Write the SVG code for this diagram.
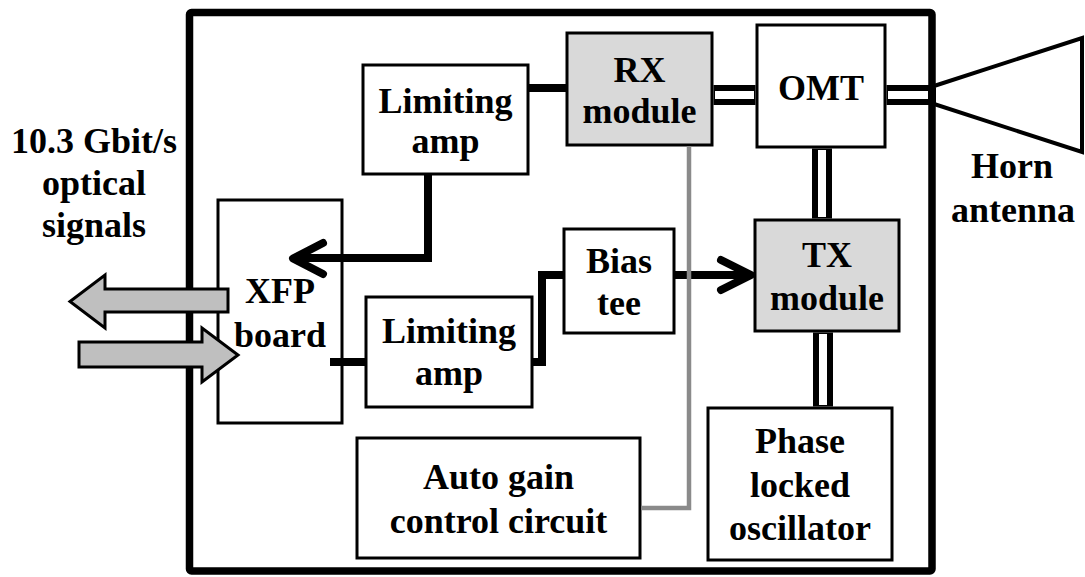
<svg xmlns="http://www.w3.org/2000/svg" width="1085" height="577" viewBox="0 0 1085 577">
<style>
.box{fill:#fff;stroke:#000;stroke-width:3}
.mod{fill:#d9d9d9;stroke:#000;stroke-width:3}
.t{font-family:"Liberation Serif","Times New Roman","DejaVu Serif",serif;font-weight:bold;font-size:36px;text-anchor:middle;fill:#000}
.wire{fill:none;stroke:#000;stroke-width:8}
.chev{fill:none;stroke:#000;stroke-width:8;stroke-linecap:round;stroke-linejoin:round}
.wgo{fill:none;stroke:#000;stroke-width:20}
.wgi{fill:none;stroke:#fff;stroke-width:8}
.opt{fill:#bfbfbf;stroke:#000;stroke-width:3}
</style>
<rect width="1085" height="577" fill="#fff"/>
<g id="frame"><rect x="189.5" y="12.5" width="742.5" height="558.5" rx="2" fill="none" stroke="#000" stroke-width="7.5"/></g>
<g id="limamp1"><rect class="box" x="363" y="65" width="165" height="109"/><text class="t" x="445.5" y="113" font-family="Liberation Serif, serif">Limiting</text><text class="t" x="445.5" y="153">amp</text></g>
<g id="rx"><rect class="mod" x="567" y="33" width="145" height="112"/><text class="t" x="639.5" y="82">RX</text><text class="t" x="639.5" y="123">module</text></g>
<g id="omt"><rect class="box" x="757" y="25" width="128" height="122"/><text class="t" x="821" y="100">OMT</text></g>
<g id="horn"><polygon points="934,86 1082,38 1082,152 934,104" fill="#fff" stroke="#000" stroke-width="4" stroke-linejoin="miter"/><text class="t" x="1012" y="178">Horn</text><text class="t" x="1013" y="222">antenna</text></g>
<g id="xfp"><rect class="box" x="218" y="200" width="124" height="223"/><text class="t" x="280" y="303">XFP</text><text class="t" x="280" y="347">board</text></g>
<g id="limamp2"><rect class="box" x="366" y="297" width="166" height="110"/><text class="t" x="449" y="343">Limiting</text><text class="t" x="449" y="385">amp</text></g>
<g id="biastee"><rect class="box" x="564" y="229" width="110" height="104"/><text class="t" x="619" y="273">Bias</text><text class="t" x="619" y="315">tee</text></g>
<g id="tx"><rect class="mod" x="755" y="220" width="144" height="111"/><text class="t" x="827" y="267">TX</text><text class="t" x="827" y="310">module</text></g>
<g id="agc"><rect class="box" x="357" y="438" width="283" height="120"/><text class="t" x="498.5" y="489">Auto gain</text><text class="t" x="498.5" y="533">control circuit</text></g>
<g id="plo"><rect class="box" x="708" y="408" width="184" height="152"/><text class="t" x="800" y="453">Phase</text><text class="t" x="800" y="497">locked</text><text class="t" x="800" y="540">oscillator</text></g>
<g id="connectors">
  <path class="wire" d="M528,88 H567"/>
  <path class="wire" d="M428,174 V258 H296"/>
  <path class="chev" d="M323,243 L293,258.5 L323,274"/>
  <path class="wire" d="M330,362 H366"/>
  <path class="wire" d="M532,362 H542 V275 H564"/>
  <path class="wire" d="M674,275 H748"/>
  <path class="chev" d="M721,260 L751,275 L721,290"/>
  <path fill="none" stroke="#8a8a8a" stroke-width="4.5" d="M689,146 V508 H641"/>
  <path class="wgo" d="M713.5,95 H755.5"/><path class="wgi" d="M715,95 H754"/>
  <path class="wgo" d="M886.5,95 H930"/><path class="wgi" d="M888,95 H928"/>
  <path class="wgo" d="M822,148.5 V218.5"/><path class="wgi" d="M822,150 V217"/>
  <path class="wgo" d="M823,332.5 V406.5"/><path class="wgi" d="M823,334 V405"/>
</g>
<g id="optical">
  <text class="t" x="94" y="153">10.3 Gbit/s</text><text class="t" x="94" y="195">optical</text><text class="t" x="94" y="237">signals</text>
  <polygon class="opt" points="228,289 105,289 105,275 70,301.5 105,328 105,312 228,312"/>
  <polygon class="opt" points="79,342 202,342 202,328 238,355 202,382 202,367 79,367"/>
</g>
</svg>
